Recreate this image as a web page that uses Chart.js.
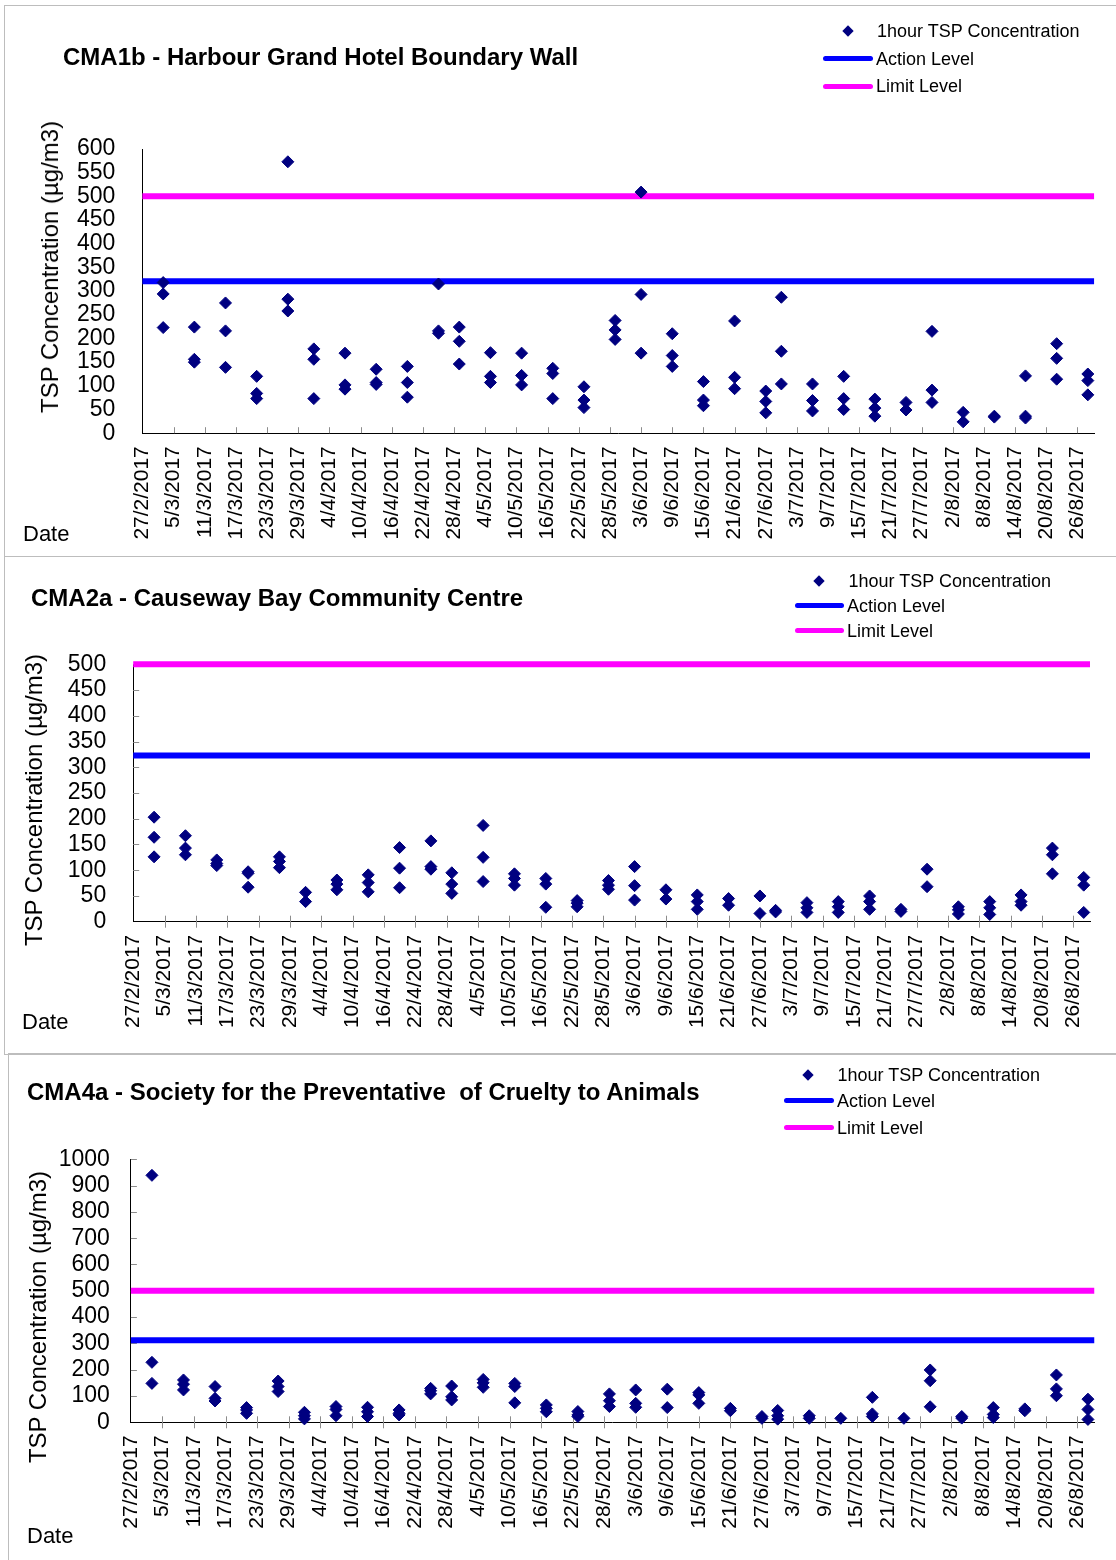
<!DOCTYPE html>
<html>
<head>
<meta charset="utf-8">
<script src="https://cdn.jsdelivr.net/npm/chart.js@4.4.1/dist/chart.umd.min.js"></script>
<style>
  body { margin: 0; background: #fff; }
  #page { position: relative; width: 1116px; height: 1560px; overflow: hidden; font-family: "Liberation Sans", Arial, sans-serif; color: #000; }
  .panel { position: absolute; border: 1px solid #bdbdbd; }
  canvas { position: absolute; left: 0; }
  .title { position: absolute; font-weight: bold; font-size: 24px; line-height: 24px; white-space: pre; }
  .ytitle { position: absolute; font-size: 24px; line-height: 24px; white-space: nowrap; transform: translate(-50%, -50%) rotate(-90deg); }
  .date { position: absolute; font-size: 22px; line-height: 22px; }
  .lgtext { position: absolute; font-size: 18px; line-height: 18px; white-space: nowrap; }
  .lgline { position: absolute; height: 5px; border-radius: 3px; }
  .lgdiamond { position: absolute; width: 8px; height: 8px; background: #000080; transform: translate(-50%, -50%) rotate(45deg); }
</style>
</head>
<body>
<div id="page">
  <div class="panel" style="left:4px; top:5px; width:1130px; height:550px;"></div>
  <div class="panel" style="left:4px; top:556px; width:1130px; height:497px;"></div>
  <div class="panel" style="left:8px; top:1053px; width:1130px; height:520px;"></div>
</div>
<script>
'use strict';

// ***** DATA *****
let tickLabels = ['27/2/2017', '5/3/2017', '11/3/2017', '17/3/2017', '23/3/2017', '29/3/2017',
  '4/4/2017', '10/4/2017', '16/4/2017', '22/4/2017', '28/4/2017', '4/5/2017', '10/5/2017',
  '16/5/2017', '22/5/2017', '28/5/2017', '3/6/2017', '9/6/2017', '15/6/2017', '21/6/2017',
  '27/6/2017', '3/7/2017', '9/7/2017', '15/7/2017', '21/7/2017', '27/7/2017', '2/8/2017',
  '8/8/2017', '14/8/2017', '20/8/2017', '26/8/2017'];

let sampleDates = ['3/3/2017', '9/3/2017', '15/3/2017', '21/3/2017', '27/3/2017', '1/4/2017',
  '7/4/2017', '13/4/2017', '19/4/2017', '25/4/2017', '29/4/2017', '5/5/2017', '11/5/2017',
  '17/5/2017', '23/5/2017', '29/5/2017', '3/6/2017', '9/6/2017', '15/6/2017', '21/6/2017',
  '27/6/2017', '30/6/2017', '6/7/2017', '12/7/2017', '18/7/2017', '24/7/2017', '29/7/2017',
  '4/8/2017', '10/8/2017', '16/8/2017', '22/8/2017', '28/8/2017'];

// 1-hour TSP readings for each sample date (µg/m3)
let cma1bValues = [
  [318, 294, 223], [224, 156, 150], [275, 216, 139], [120, 84, 73], [573, 283, 258],
  [178, 156, 73], [169, 102, 93], [135, 107, 103], [141, 107, 76], [315, 216, 211],
  [224, 194, 146], [170, 120, 107], [169, 122, 102], [137, 126, 73], [98, 70, 54],
  [238, 218, 198], [509, 293, 169], [210, 164, 141], [109, 70, 58], [237, 118, 94],
  [89, 67, 43], [287, 173, 104], [104, 69, 47], [120, 73, 50], [72, 53, 36],
  [65, 49], [215, 91, 65], [44, 24], [36, 34], [121, 36, 32], [189, 158, 114], [125, 111, 81]
];
let cma2aValues = [
  [203, 164, 126], [167, 143, 130], [120, 113, 109], [97, 94, 67], [126, 117, 105],
  [57, 39], [81, 73, 62], [91, 76, 58], [144, 104, 66], [157, 107, 102],
  [95, 73, 55], [187, 125, 78], [93, 84, 71], [84, 73, 28], [41, 36, 29],
  [80, 71, 63], [107, 70, 42], [62, 44], [52, 39, 24], [45, 32],
  [50, 16], [22, 19], [37, 27, 18], [39, 29, 18], [50, 39, 24],
  [24, 20], [102, 68], [29, 23, 15], [39, 27, 14], [52, 39, 32], [143, 130, 93], [86, 71, 18]
];
let cma4aValues = [
  [939, 228, 148], [161, 145, 123], [136, 91, 81], [56, 47, 34], [157, 136, 117],
  [38, 25, 13], [60, 49, 25], [57, 40, 22], [47, 34, 28], [129, 120, 108],
  [138, 97, 85], [163, 150, 133], [148, 136, 74], [66, 53, 40], [41, 28, 22],
  [108, 82, 60], [123, 72, 57], [126, 56], [113, 104, 72], [53, 44],
  [22, 15], [45, 25, 12], [25, 15], [15], [95, 32, 22],
  [15], [199, 158, 59], [22, 16], [56, 30, 18], [51, 44], [180, 127, 101], [88, 49, 11]
];

let actionLevels = [321, 323, 312];
let limitLevels = [500, 500, 500];
let yMaxes = [600, 500, 1000];
let ySteps = [50, 50, 100];
let chartTitles = ['CMA1b - Harbour Grand Hotel Boundary Wall',
  'CMA2a - Causeway Bay Community Centre',
  'CMA4a - Society for the Preventative  of Cruelty to Animals'];
let seriesNames = ['1hour TSP Concentration', 'Action Level', 'Limit Level'];

// ***** LAYOUT (page pixels) *****
let panels = [
  { top: 6, height: 549, area: [142.4, 149, 1095.6, 433.2], xMarkUp: 6, xMarkDown: 0, yMark: 0, yPad: 27,
    title: [63, 57], ytitle: [50, 267], date: [23, 534], legend: [848, 877, 823, 873, 31, 58.6, 86] },
  { top: 558, height: 495, area: [133.2, 664.3, 1090, 921.7], xMarkUp: 6, xMarkDown: 6, yMark: 6, yPad: 27,
    title: [31, 597.5], ytitle: [34, 800], date: [22, 1022], legend: [819, 848.5, 795, 844, 581, 605.7, 630.7] },
  { top: 1055, height: 505, area: [130.9, 1159.3, 1094.5, 1422.3], xMarkUp: 6, xMarkDown: 6, yMark: 6, yPad: 21,
    title: [27, 1091.5], ytitle: [38, 1317], date: [27, 1536], legend: [808, 837.5, 784, 834, 1075, 1100.7, 1127.5] }
];

const FONT = '"Liberation Sans", Arial, sans-serif';
const X_MAX = 183.2;
let page = document.getElementById('page');

// ***** HELPERS *****
function dayNumber(str){
  let parts = str.split('/').map(Number);
  return (Date.UTC(parts[2], parts[1] - 1, parts[0]) - Date.UTC(2017, 1, 27)) / 86400000;
}

function buildPoints(values){
  let pts = [];
  for(let i = 0; i < sampleDates.length; i++){
    let d = dayNumber(sampleDates[i]);
    for(let j = 0; j < values[i].length; j++){
      pts.push({ x: d, y: values[i][j] });
    }
  }
  return pts;
}

function addDiv(cls, text, style){
  let el = document.createElement('div');
  el.className = cls;
  if(text) el.textContent = text;
  Object.assign(el.style, style);
  page.appendChild(el);
  return el;
}

// short grey tick marks like the original
const tickMarks = {
  id: 'tickMarks',
  beforeDatasetsDraw(chart, args, opts){
    let ctx = chart.ctx;
    let a = chart.chartArea;
    let xs = chart.scales.x;
    let ys = chart.scales.y;
    ctx.save();
    ctx.strokeStyle = '#8c8c8c';
    ctx.lineWidth = 1;
    ctx.beginPath();
    xs.ticks.forEach(t => {
      if(t.value === 0) return;
      let px = Math.round(xs.getPixelForValue(t.value)) + 0.5;
      ctx.moveTo(px, a.bottom - opts.up);
      ctx.lineTo(px, a.bottom + opts.down);
    });
    if(opts.yIn > 0){
      ys.ticks.forEach(t => {
        if(t.value === 0) return;
        let py = Math.round(ys.getPixelForValue(t.value)) + 0.5;
        ctx.moveTo(a.left, py);
        ctx.lineTo(a.left + opts.yIn, py);
      });
    }
    ctx.stroke();
    ctx.restore();
  }
};

function renderChart(idx, values){
  let p = panels[idx];
  let canvas = document.createElement('canvas');
  canvas.width = 1116;
  canvas.height = p.height;
  canvas.style.top = p.top + 'px';
  page.appendChild(canvas);

  let areaLeft = p.area[0];
  let areaTop = p.area[1] - p.top;
  let areaRight = 1116 - p.area[2];
  let xHeight = p.top + p.height - p.area[3];

  new Chart(canvas, {
    type: 'scatter',
    data: {
      datasets: [{
        label: seriesNames[0],
        data: buildPoints(values),
        pointStyle: 'rectRot',
        pointRadius: 6,
        pointHoverRadius: 6,
        backgroundColor: '#000080',
        borderColor: '#000080',
        borderWidth: 1,
        clip: false
      },
      {
        label: seriesNames[1],
        data: [{ x: 0, y: actionLevels[idx] }, { x: X_MAX, y: actionLevels[idx] }],
        showLine: true,
        borderColor: '#0000ff',
        borderWidth: 6,
        pointRadius: 0,
        clip: false
      },
      {
        label: seriesNames[2],
        data: [{ x: 0, y: limitLevels[idx] }, { x: X_MAX, y: limitLevels[idx] }],
        showLine: true,
        borderColor: '#ff00ff',
        borderWidth: 6,
        pointRadius: 0,
        clip: false
      }]
    },
    options: {
      responsive: false,
      animation: false,
      devicePixelRatio: 1,
      layout: { padding: { left: 0, top: areaTop, right: areaRight, bottom: 0 } },
      plugins: {
        legend: { display: false },
        tooltip: { enabled: false },
        tickMarks: { up: p.xMarkUp, down: p.xMarkDown, yIn: p.yMark }
      },
      scales: {
        x: {
          type: 'linear',
          min: 0,
          max: X_MAX,
          afterFit: (scale) => { scale.height = xHeight; },
          border: { display: true, color: '#000', width: 1 },
          grid: { display: true, drawOnChartArea: false, drawTicks: false },
          ticks: {
            stepSize: 6,
            includeBounds: false,
            autoSkip: false,
            minRotation: 90,
            maxRotation: 90,
            padding: 13,
            color: '#000',
            font: { family: FONT, size: 21 },
            callback: (v) => tickLabels[v / 6]
          }
        },
        y: {
          min: 0,
          max: yMaxes[idx],
          afterFit: (scale) => { scale.width = areaLeft; },
          border: { display: true, color: '#000', width: 1 },
          grid: { display: true, drawOnChartArea: false, drawTicks: false },
          ticks: {
            stepSize: ySteps[idx],
            autoSkip: false,
            padding: p.yPad,
            color: '#000',
            font: { family: FONT, size: 23 },
            callback: (v) => String(v)
          }
        }
      }
    },
    plugins: [tickMarks]
  });

  // ***** TEXT AROUND THE CHART *****
  addDiv('title', chartTitles[idx], { left: p.title[0] + 'px', top: (p.title[1] - 12) + 'px' });
  addDiv('ytitle', 'TSP Concentration (µg/m3)', { left: p.ytitle[0] + 'px', top: p.ytitle[1] + 'px' });
  addDiv('date', 'Date', { left: p.date[0] + 'px', top: (p.date[1] - 11) + 'px' });

  let lg = p.legend;
  addDiv('lgdiamond', '', { left: lg[0] + 'px', top: lg[4] + 'px' });
  addDiv('lgtext', seriesNames[0], { left: lg[1] + 'px', top: (lg[4] - 9) + 'px' });
  addDiv('lgline', '', { left: lg[2] + 'px', width: (lg[3] - lg[2]) + 'px', top: (lg[5] - 2.5) + 'px', background: '#0000ff' });
  addDiv('lgtext', seriesNames[1], { left: (lg[3] + 3) + 'px', top: (lg[5] - 9) + 'px' });
  addDiv('lgline', '', { left: lg[2] + 'px', width: (lg[3] - lg[2]) + 'px', top: (lg[6] - 2.5) + 'px', background: '#ff00ff' });
  addDiv('lgtext', seriesNames[2], { left: (lg[3] + 3) + 'px', top: (lg[6] - 9) + 'px' });
}

// ***** EXECUTABLE CODE *****
renderChart(0, cma1bValues);
renderChart(1, cma2aValues);
renderChart(2, cma4aValues);
</script>
</body>
</html>
